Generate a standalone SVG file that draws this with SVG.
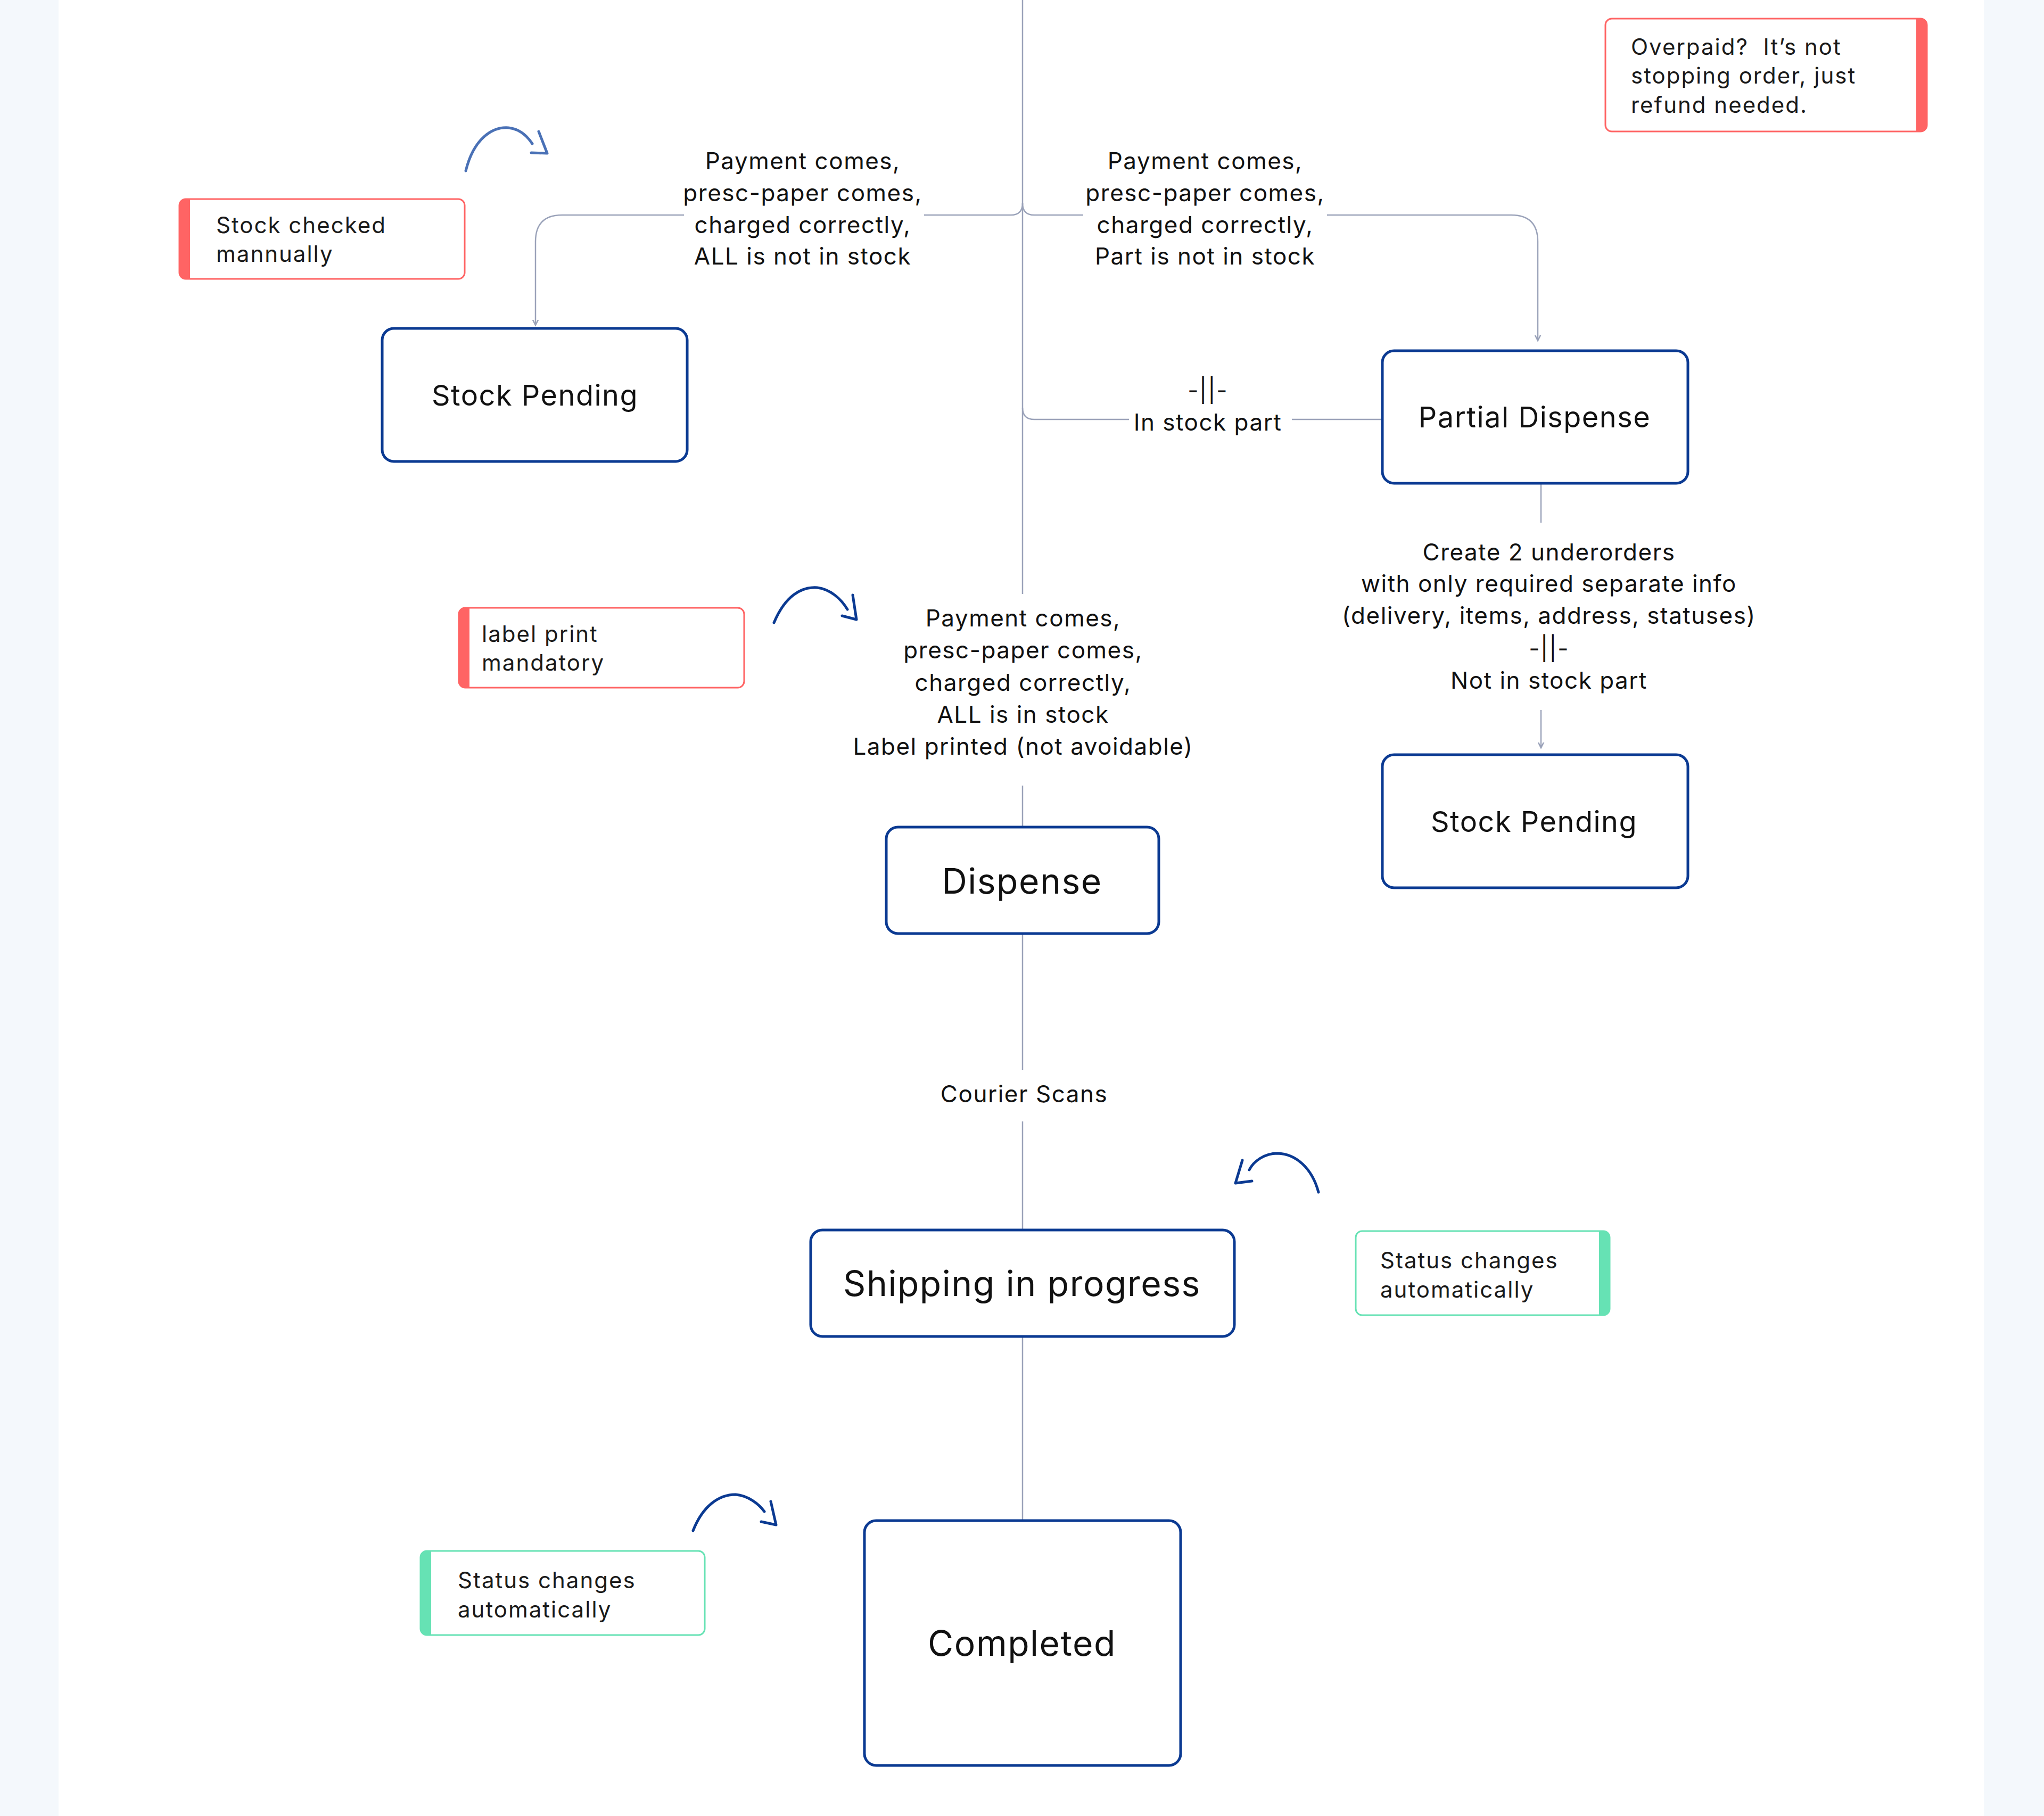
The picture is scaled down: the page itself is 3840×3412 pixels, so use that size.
<svg xmlns="http://www.w3.org/2000/svg" width="3840" height="3412" viewBox="0 0 3840 3412">
<defs>
<style>
.bg{fill:#ffffff}
.side{fill:#f4f8fc}
.node rect{fill:#ffffff;stroke:#0b3a92;stroke-width:5}
.ntxt{font-family:"Inter","Open Sans",sans-serif;fill:#111111;text-anchor:middle;letter-spacing:1.5px}
.lbl{font-family:"Inter","Open Sans",sans-serif;font-size:44px;fill:#111111;text-anchor:middle;letter-spacing:1.5px}
.note{font-family:"Inter","Open Sans",sans-serif;font-size:42px;fill:#1a1a1a;letter-spacing:2px}
.conn path{fill:none;stroke:#9aa2b9;stroke-width:2.5}
.red{fill:#ffffff;stroke:#ff6464;stroke-width:3}
.redbar{fill:#ff6464}
.grn{fill:#ffffff;stroke:#66e2b4;stroke-width:3}
.grnbar{fill:#66e2b4}
.hand{fill:none;stroke:#0b3a92;stroke-width:5;stroke-linecap:round;stroke-linejoin:round}
.hand2{fill:none;stroke:#4a71b6;stroke-width:5;stroke-linecap:round;stroke-linejoin:round}
</style>
<marker id="ah" markerUnits="userSpaceOnUse" markerWidth="20" markerHeight="20" viewBox="-10 -14 20 20" refX="0" refY="0" orient="auto">
<path d="M-12,-6 L0,0 L-12,6" fill="none" stroke="#9aa2b9" stroke-width="2.5"/>
</marker>
</defs>
<rect class="bg" x="0" y="0" width="3840" height="3412"/>
<rect class="side" x="0" y="0" width="110" height="3412"/>
<rect class="side" x="3727" y="0" width="113" height="3412"/>

<g id="connectors" class="conn">
<path d="M1921,0 V1116"/>
<path d="M1921,382 Q1921,404 1899,404 H1736"/>
<path d="M1285,404 H1056 Q1006,404 1006,454 V611" marker-end="url(#ah)"/>
<path d="M1921,382 Q1921,404 1943,404 H2035"/>
<path d="M2493,404 H2839 Q2889,404 2889,454 V640" marker-end="url(#ah)"/>
<path d="M2596,788 H2427"/>
<path d="M2121,788 H1943 Q1921,788 1921,766"/>
<path d="M2895,908 V982"/>
<path d="M2895,1334 V1405" marker-end="url(#ah)"/>
<path d="M1921,1476 V1554"/>
<path d="M1921,1755 V2010"/>
<path d="M1921,2107 V2311"/>
<path d="M1921,2512 V2857"/>
</g>

<g id="edge-labels">
<text class="lbl" x="1508" y="318">Payment comes,</text>
<text class="lbl" x="1508" y="378">presc-paper comes,</text>
<text class="lbl" x="1508" y="438">charged correctly,</text>
<text class="lbl" x="1508" y="497">ALL is not in stock</text>
<text class="lbl" x="2264" y="318">Payment comes,</text>
<text class="lbl" x="2264" y="378">presc-paper comes,</text>
<text class="lbl" x="2264" y="438">charged correctly,</text>
<text class="lbl" x="2264" y="497">Part is not in stock</text>
<text class="lbl" x="2269" y="749">-||-</text>
<text class="lbl" x="2269" y="809">In stock part</text>
<text class="lbl" x="2910" y="1053">Create 2 underorders</text>
<text class="lbl" x="2910" y="1112">with only required separate info</text>
<text class="lbl" x="2910" y="1172">(delivery, items, address, statuses)</text>
<text class="lbl" x="2910" y="1234">-||-</text>
<text class="lbl" x="2910" y="1294">Not in stock part</text>
<text class="lbl" x="1922" y="1177">Payment comes,</text>
<text class="lbl" x="1922" y="1237">presc-paper comes,</text>
<text class="lbl" x="1922" y="1298">charged correctly,</text>
<text class="lbl" x="1922" y="1358">ALL is in stock</text>
<text class="lbl" x="1922" y="1418">Label printed (not avoidable)</text>
<text class="lbl" x="1924" y="2071">Courier Scans</text>
</g>

<g id="node-stock-pending-1" class="node">
<rect x="718" y="617" width="573" height="250" rx="22"/>
<text class="ntxt" x="1005" y="762" font-size="54">Stock Pending</text>
</g>
<g id="node-partial-dispense" class="node">
<rect x="2597" y="659" width="574" height="249" rx="22"/>
<text class="ntxt" x="2883" y="803" font-size="54">Partial Dispense</text>
</g>
<g id="node-stock-pending-2" class="node">
<rect x="2597" y="1418" width="574" height="250" rx="22"/>
<text class="ntxt" x="2882" y="1563" font-size="54">Stock Pending</text>
</g>
<g id="node-dispense" class="node">
<rect x="1665" y="1554" width="512" height="200" rx="22"/>
<text class="ntxt" x="1920" y="1679" font-size="66">Dispense</text>
</g>
<g id="node-shipping" class="node">
<rect x="1523" y="2311" width="796" height="200" rx="22"/>
<text class="ntxt" x="1920" y="2435" font-size="66">Shipping in progress</text>
</g>
<g id="node-completed" class="node">
<rect x="1624" y="2857" width="594" height="460" rx="22"/>
<text class="ntxt" x="1920" y="3111" font-size="66">Completed</text>
</g>

<g id="note-stock-checked">
<rect class="red" x="337" y="374" width="536" height="150" rx="12"/>
<path class="redbar" d="M349,374 H357 V524 H349 A12,12 0 0 1 337,512 V386 A12,12 0 0 1 349,374 Z"/>
<text class="note" x="406" y="438">Stock checked</text>
<text class="note" x="406" y="492">mannually</text>
</g>
<g id="note-overpaid">
<rect class="red" x="3016" y="35" width="604" height="212" rx="12"/>
<path class="redbar" d="M3600,35 H3608 A12,12 0 0 1 3620,47 V235 A12,12 0 0 1 3608,247 H3600 Z"/>
<text class="note" x="3064" y="103" xml:space="preserve">Overpaid?  It’s not</text>
<text class="note" x="3064" y="157">stopping order, just</text>
<text class="note" x="3064" y="212">refund needed.</text>
</g>
<g id="note-label-print">
<rect class="red" x="862" y="1142" width="536" height="150" rx="12"/>
<path class="redbar" d="M874,1142 H882 V1292 H874 A12,12 0 0 1 862,1280 V1154 A12,12 0 0 1 874,1142 Z"/>
<text class="note" x="905" y="1206">label print</text>
<text class="note" x="905" y="1260">mandatory</text>
</g>
<g id="note-status-right">
<rect class="grn" x="2547" y="2313" width="477" height="158" rx="12"/>
<path class="grnbar" d="M3004,2313 H3012 A12,12 0 0 1 3024,2325 V2459 A12,12 0 0 1 3012,2471 H3004 Z"/>
<text class="note" x="2593" y="2383">Status changes</text>
<text class="note" x="2593" y="2438">automatically</text>
</g>
<g id="note-status-left">
<rect class="grn" x="790" y="2914" width="534" height="158" rx="12"/>
<path class="grnbar" d="M802,2914 H810 V3072 H802 A12,12 0 0 1 790,3060 V2926 A12,12 0 0 1 802,2914 Z"/>
<text class="note" x="860" y="2984" fill="#333333">Status changes</text>
<text class="note" x="860" y="3039" fill="#333333">automatically</text>
</g>

<g id="hand-arrows">
<path class="hand2" d="M875,321 C890,260 925,238 955,240 C975,242 990,255 1000,270"/>
<path class="hand2" d="M1012,247 L1028,288 L998,287"/>
<path class="hand" d="M1454,1170 C1475,1120 1505,1102 1535,1104 C1560,1107 1580,1125 1592,1145"/>
<path class="hand" d="M1602,1118 L1609,1164 L1582,1157"/>
<path class="hand" d="M2477,2240 C2465,2195 2435,2168 2400,2167 C2375,2167 2355,2182 2347,2198"/>
<path class="hand" d="M2334,2180 L2321,2223 L2352,2219"/>
<path class="hand" d="M1302,2876 C1320,2830 1350,2808 1382,2808 C1405,2810 1425,2825 1436,2840"/>
<path class="hand" d="M1448,2821 L1458,2865 L1430,2859"/>
</g>
</svg>
